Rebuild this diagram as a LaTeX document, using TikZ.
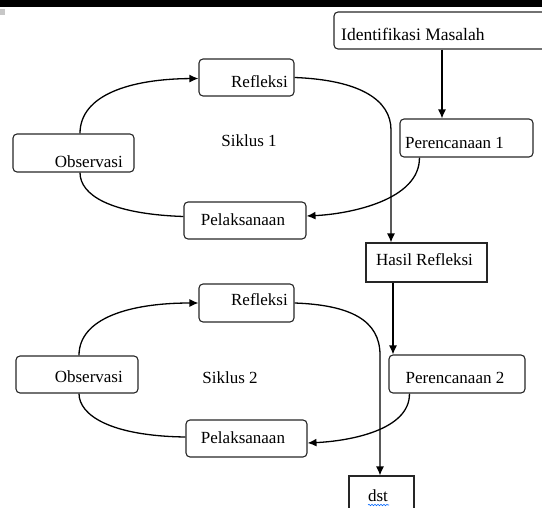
\documentclass[tikz,border=0pt]{standalone}
\usepackage{fontspec}
\setmainfont{Liberation Serif}
\usetikzlibrary{arrows.meta,calc,decorations.pathmorphing}
\begin{document}
\begin{tikzpicture}[x=1pt,y=-1pt,
  box/.style={draw=black!85, line width=1.1pt, rounded corners=4pt, inner sep=0pt},
  sbox/.style={draw=black!85, line width=1.1pt, inner sep=0pt},
  txt/.style={inner sep=0pt, font=\fontsize{17}{20}\selectfont},
  conn/.style={line width=1.3pt, black},
  arr/.style={conn, -{Latex[length=9pt,width=8pt]}}]
\useasboundingbox (0,0) rectangle (542,508);
\clip (0,0) rectangle (542,508);
\fill[black] (0,0) rectangle (542,7.5);
\fill[black!22] (0,9) rectangle (5,15);

% boxes
\node[box, minimum width=226pt, minimum height=37pt] (ident) at (447,30.5) {};
\node[box, minimum width=95pt, minimum height=37pt] (ref1) at (246.5,77.5) {};
\node[box, minimum width=121pt, minimum height=38pt] (obs1) at (73.5,153) {};
\node[box, minimum width=122pt, minimum height=37pt] (pel1) at (245,220.5) {};
\node[box, minimum width=133pt, minimum height=38pt] (per1) at (466.5,138) {};
\node[sbox, minimum width=121pt, minimum height=39pt] (hasil) at (426.5,262.5) {};
\node[box, minimum width=136pt, minimum height=38pt] (per2) at (457,374) {};
\node[box, minimum width=95pt, minimum height=38pt] (ref2) at (246.5,303) {};
\node[box, minimum width=122pt, minimum height=37pt] (obs2) at (77,374.5) {};
\node[box, minimum width=121pt, minimum height=37pt] (pel2) at (246.5,438.5) {};
\node[sbox, minimum width=65pt, minimum height=44pt] (dst) at (381.5,498) {};

% texts
\node[txt, anchor=base west, font=\fontsize{17.5}{20}\selectfont] (tIdent) at (341,40.5) {Identifikasi Masalah};
\node[txt, anchor=base east] (tRef1) at (288,88) {Refleksi};
\node[txt, anchor=base east] (tObs1) at (123,168) {Observasi};
\node[txt, anchor=base] (tSik1) at (249,147) {Siklus 1};
\node[txt, anchor=base] (tPel1) at (243,226) {Pelaksanaan};
\node[txt, anchor=base west] (tPer1) at (405,149) {Perencanaan 1};
\node[txt, anchor=base] (tHasil) at (424.5,265.5) {Hasil Refleksi};
\node[txt, anchor=base] (tPer2) at (455,384) {Perencanaan 2};
\node[txt, anchor=base east] (tRef2) at (288,305.5) {Refleksi};
\node[txt, anchor=base east] (tObs2) at (123,383) {Observasi};
\node[txt, anchor=base] (tSik2) at (230,384) {Siklus 2};
\node[txt, anchor=base] (tPel2) at (243,444) {Pelaksanaan};
\node[txt, anchor=base] (tDst) at (378,501) {dst};
\draw[blue!60!cyan, line width=0.6pt, decorate, decoration={snake, amplitude=0.7pt, segment length=3pt}] (368,505) -- (389,505);

% coordinates
\coordinate (c1) at (442,0);
\coordinate (c2) at (393,0);
\coordinate (v1) at (391,130);
\coordinate (v2) at (380,355);

% connectors
\draw[arr] (c1 |- ident.south) -- (c1 |- per1.north);
\draw[arr] (ref1.east) .. controls (360,80) and (391,100) .. (v1) -- (v1 |- hasil.north);
\draw[arr] ($(per1.south west)+(20,0)$) .. controls (420,200) and (350,214) .. ($(pel1.east)+(0,-4.5)$);
\draw[conn] ($(pel1.west)+(0,-4)$) .. controls (110,214) and (80,195) .. ($(obs1.south)+(6.5,0)$);
\draw[arr] ($(obs1.north)+(6.5,0)$) .. controls (80,95) and (130,79) .. ($(ref1.west)+(0,1)$);

\draw[arr] (c2 |- hasil.south) -- (c2 |- per2.north);
\draw[arr] (ref2.east) .. controls (350,305) and (380,320) .. (v2) -- (v2 |- dst.north);
\draw[arr] ($(per2.south west)+(21,0)$) .. controls (410,430) and (350,441) .. ($(pel2.east)+(0,4.5)$);
\draw[conn] ($(pel2.west)+(0,-1.5)$) .. controls (110,436) and (79,415) .. ($(obs2.south)+(2,0)$);
\draw[arr] ($(obs2.north)+(2,0)$) .. controls (79,318) and (130,303) .. (ref2.west);
\end{tikzpicture}
\end{document}
